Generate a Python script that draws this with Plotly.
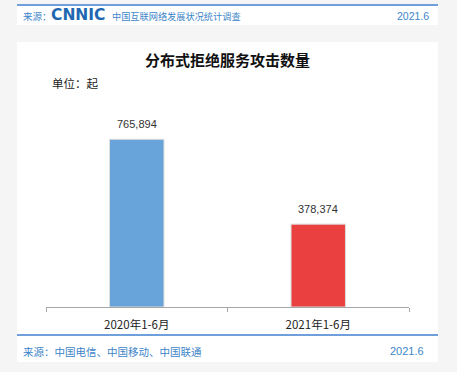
import plotly.graph_objects as go

categories = ["2020年1-6月", "2021年1-6月"]
values = [765894, 378374]
bar_colors = ["#68A4DA", "#EB4040"]
title_text = "分布式拒绝服务攻击数量"
unit_text = "单位：起"
header_source = "来源："
header_logo = "CNNIC"
header_desc = "中国互联网络发展状况统计调查"
header_date = "2021.6"
footer_source = "来源：中国电信、中国移动、中国联通"
footer_date = "2021.6"

W, H = 457, 372
L, R, T, B = 46, 48, 88, 65
PW = W - L - R
PH = H - T - B
YMAX = 1000000

def px(x):
    return (x - L) / PW

def py(y):
    return (H - B - y) / PH

CJK = "Noto Sans CJK SC"
NUM = "Liberation Sans, Arial"

fig = go.Figure()
fig.add_trace(go.Bar(
    x=categories, y=values,
    marker=dict(color=bar_colors, line=dict(color="#dddddd", width=1)),
    width=0.30,
    hoverinfo="skip",
))

annotations = []
for c, v in zip(categories, values):
    annotations.append(dict(
        x=c, y=v, xref="x", yref="y", text=f"{v:,}", showarrow=False,
        yanchor="bottom", yshift=7, font=dict(family=NUM, size=11, color="#333333")))

def text_ann(text, x, y, size, color, family=CJK, xanchor="left", bold=False):
    t = f"<b>{text}</b>" if bold else text
    annotations.append(dict(
        x=px(x), y=py(y), xref="paper", yref="paper", text=t, showarrow=False,
        xanchor=xanchor, yanchor="middle", xshift=0, font=dict(family=family, size=size, color=color)))

text_ann(title_text, 228, 59, 15, "#111111", xanchor="center", bold=True)
text_ann(unit_text, 50, 83, 11.5, "#222222")
text_ann(header_source, 21, 16, 9.5, "#3d85c8")
text_ann(header_logo, 49, 15, 15.5, "#1f67b0", family="DejaVu Sans", bold=True)
text_ann(header_desc, 110, 16, 9.2, "#3d85c8")
text_ann(header_date, 431, 16, 10.5, "#3d85c8", family=NUM, xanchor="right")
text_ann(footer_source, 21, 351, 10.5, "#3d85c8")
text_ann(footer_date, 426, 351, 11, "#3d85c8", family=NUM, xanchor="right")

shapes = [
    dict(type="rect", xref="paper", yref="paper", x0=px(17), x1=px(438), y0=py(5), y1=py(25),
         fillcolor="white", line=dict(width=0), layer="below"),
    dict(type="rect", xref="paper", yref="paper", x0=px(17), x1=px(438), y0=py(42), y1=py(362),
         fillcolor="white", line=dict(width=0), layer="below"),
    dict(type="line", xref="paper", yref="paper", x0=px(17), x1=px(438), y0=py(5), y1=py(5),
         line=dict(color="#6fa0dc", width=2)),
    dict(type="line", xref="paper", yref="paper", x0=px(17), x1=px(438), y0=py(335), y1=py(335),
         line=dict(color="#6fa0dc", width=2)),
]

fig.update_layout(
    width=W, height=H,
    margin=dict(l=L, r=R, t=T, b=B),
    paper_bgcolor="#f5f5f5",
    plot_bgcolor="rgba(0,0,0,0)",
    showlegend=False,
    bargap=0.7,
    annotations=annotations,
    shapes=shapes,
    xaxis=dict(
        showline=True, linecolor="#a6a6a6", linewidth=1,
        ticks="outside", tickson="boundaries", ticklen=4, tickcolor="#a6a6a6",
        ticklabelstandoff=7,
        tickfont=dict(family=CJK, size=11.5, color="#222222"),
        showgrid=False, fixedrange=True,
    ),
    yaxis=dict(range=[0, YMAX], visible=False, showgrid=False, fixedrange=True),
)

fig.write_html("out.html", config={"displayModeBar": False},
               post_script="document.body.style.margin='0';document.body.style.background='#f5f5f5';")
